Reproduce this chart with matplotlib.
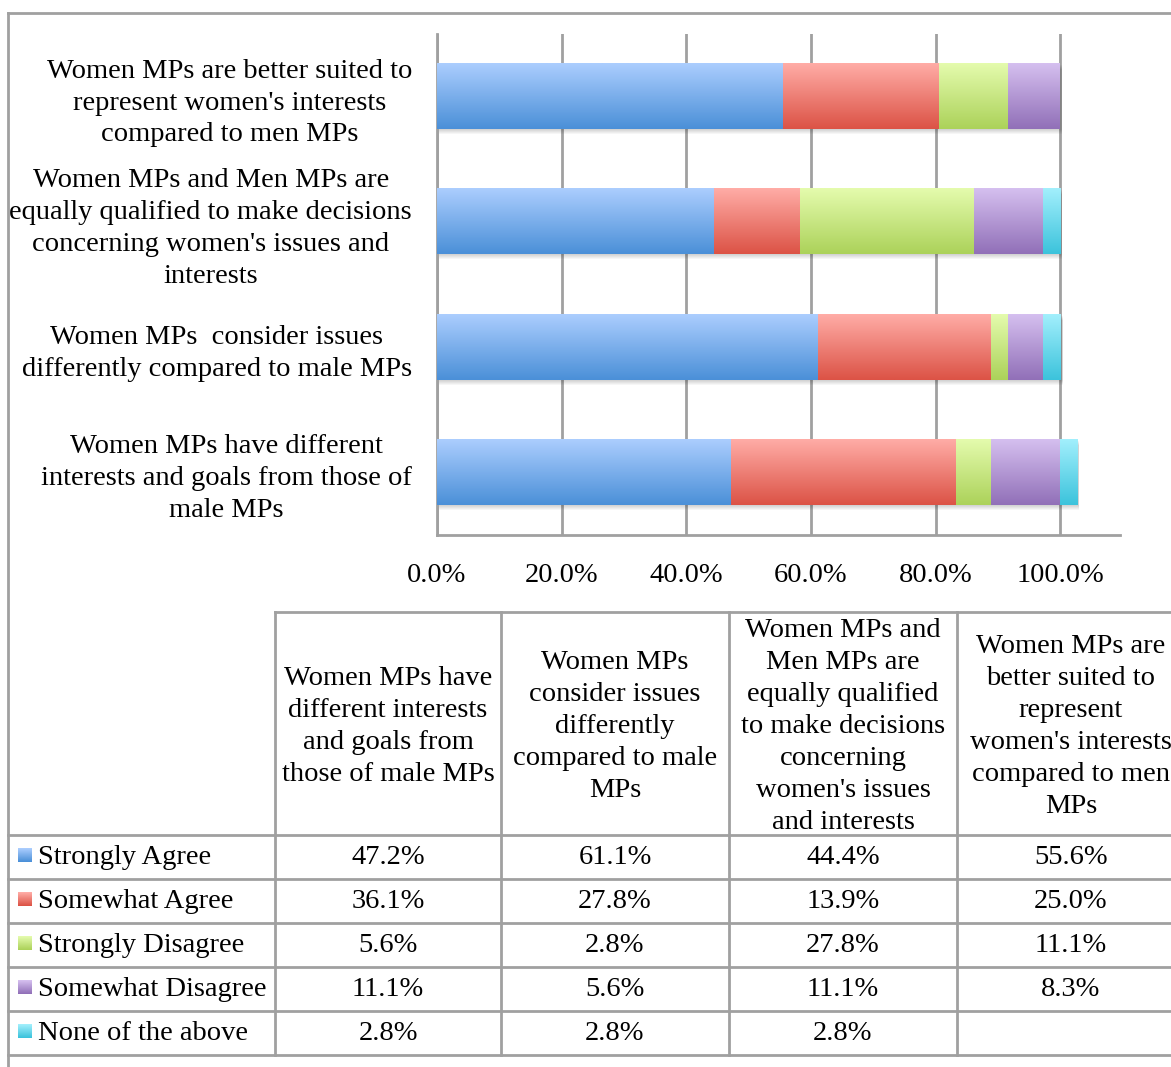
#!/usr/bin/env python3
import numpy as np
import matplotlib
matplotlib.use('Agg')
from matplotlib import pyplot as plt
from matplotlib.colors import LinearSegmentedColormap
from matplotlib.ticker import FuncFormatter

# Survey statements, bottom bar first
statements = [
    "Women MPs have different\ninterests and goals from those of\nmale MPs",
    "Women MPs  consider issues\ndifferently compared to male MPs",
    "Women MPs and Men MPs are\nequally qualified to make decisions\nconcerning women's issues and\ninterests",
    "Women MPs are better suited to\nrepresent women's interests\ncompared to men MPs",
]
table_headers = [
    "Women MPs have\ndifferent interests\nand goals from\nthose of male MPs",
    "Women MPs\nconsider issues\ndifferently\ncompared to male\nMPs",
    "Women MPs and\nMen MPs are\nequally qualified\nto make decisions\nconcerning\nwomen's issues\nand interests",
    "Women MPs are\nbetter suited to\nrepresent\nwomen's interests\ncompared to men\nMPs",
]
responses = ["Strongly Agree", "Somewhat Agree", "Strongly Disagree",
             "Somewhat Disagree", "None of the above"]

strongly_agree = [47.2, 61.1, 44.4, 55.6]
somewhat_agree = [36.1, 27.8, 13.9, 25.0]
strongly_disagree = [5.6, 2.8, 27.8, 11.1]
somewhat_disagree = [11.1, 5.6, 11.1, 8.3]
none_of_above = [2.8, 2.8, 2.8, None]

series = [strongly_agree, somewhat_agree, strongly_disagree,
          somewhat_disagree, none_of_above]

# (top colour, bottom colour) of each gradient fill
gradients = [
    ("#abcdfe", "#4b90d8"),
    ("#ffaca6", "#dc5346"),
    ("#e4fbad", "#acd25a"),
    ("#d5bfef", "#9170b8"),
    ("#a2effc", "#3cc3dc"),
]

W, H = 1171, 1067
FONT = "Liberation Serif"
FS = 20.5
LS = 1.36
GRID = "#a0a0a0"

plt.rcParams['font.family'] = FONT
fig = plt.figure(figsize=(W / 100, H / 100), dpi=100)


def px_axes(x0, y0, x1, y1):
    return [x0 / W, 1 - y1 / H, (x1 - x0) / W, (y1 - y0) / H]


ax = fig.add_axes(px_axes(437, 34, 1120, 535))
bar_h = 0.52
ypos = np.arange(len(statements))
left = np.zeros(len(statements))
for vals, (top, bot) in zip(series, gradients):
    cmap = LinearSegmentedColormap.from_list("g", [bot, top])
    widths = np.array([0.0 if v is None else v / 100 for v in vals])
    for y, l, w in zip(ypos, left, widths):
        if w <= 0:
            continue
        ax.imshow(np.linspace(0, 1, 64).reshape(-1, 1), cmap=cmap,
                  origin='lower', aspect='auto', interpolation='bilinear',
                  extent=[l, l + w, y - bar_h / 2, y + bar_h / 2], zorder=3)
    left += widths

# soft shadow under each bar
for y, total in zip(ypos, left):
    for k in range(1, 6):
        ax.add_patch(plt.Rectangle((0.003, y - bar_h / 2 - k * 0.008), total,
                                   bar_h, color="black", alpha=0.035,
                                   lw=0, zorder=2))

ax.set_xlim(0, 1.096)
ax.set_ylim(-0.5, 3.5)
ax.set_xticks(np.arange(0, 1.01, 0.2))
ax.xaxis.set_major_formatter(FuncFormatter(lambda v, p: "%.1f%%" % (v * 100)))
ax.set_yticks(ypos)
ax.set_yticklabels(statements)
for lbl in ax.get_yticklabels():
    lbl.set_multialignment('center')
    lbl.set_linespacing(LS)
ax.tick_params(axis='both', length=0, labelsize=FS, colors="black")
ax.tick_params(axis='y', pad=18)
ax.tick_params(axis='x', pad=20)
ax.grid(axis='x', color=GRID, lw=2, zorder=1)
ax.set_axisbelow(True)
for side in ("top", "right"):
    ax.spines[side].set_visible(False)
for side in ("left", "bottom"):
    ax.spines[side].set_color(GRID)
    ax.spines[side].set_linewidth(2)

# data table and frame drawn in pixel coordinates
ov = fig.add_axes([0, 0, 1, 1], zorder=5)
ov.set_xlim(0, W)
ov.set_ylim(H, 0)
ov.axis('off')

ov.plot([8, 8], [13, H], color=GRID, lw=2)
ov.plot([8, W], [13, 13], color=GRID, lw=2)

col_edges = [275, 501, 729, 957, 1185]
head_top, head_bot = 612, 835
row_h = 44
row_edges = [head_bot + i * row_h for i in range(len(responses) + 1)]

ov.plot([col_edges[0], W], [head_top, head_top], color=GRID, lw=2)
for x in col_edges:
    ov.plot([x, x], [head_top, row_edges[-1]], color=GRID, lw=2)
for y in row_edges:
    ov.plot([8, W], [y, y], color=GRID, lw=2)

for c, head in enumerate(table_headers):
    cx = (col_edges[c] + col_edges[c + 1]) / 2
    ov.text(cx, (head_top + head_bot) / 2 + 3, head, ha='center', va='center',
            fontsize=FS, linespacing=LS)

for r, (name, vals, (top, bot)) in enumerate(zip(responses, series, gradients)):
    cy = (row_edges[r] + row_edges[r + 1]) / 2
    cmap = LinearSegmentedColormap.from_list("g", [bot, top])
    ov.imshow(np.linspace(1, 0, 16).reshape(-1, 1), cmap=cmap, origin='upper',
              aspect='auto', extent=[18, 32, cy + 5, cy - 9], vmin=0, vmax=1)
    ov.text(38, cy + 1, name, ha='left', va='center', fontsize=FS)
    for c, v in enumerate(vals):
        if v is None:
            continue
        cx = (col_edges[c] + col_edges[c + 1]) / 2
        ov.text(cx, cy + 1, "%.1f%%" % v, ha='center', va='center', fontsize=FS)

ov.set_xlim(0, W)
ov.set_ylim(H, 0)

plt.savefig("out.png", dpi=100)
